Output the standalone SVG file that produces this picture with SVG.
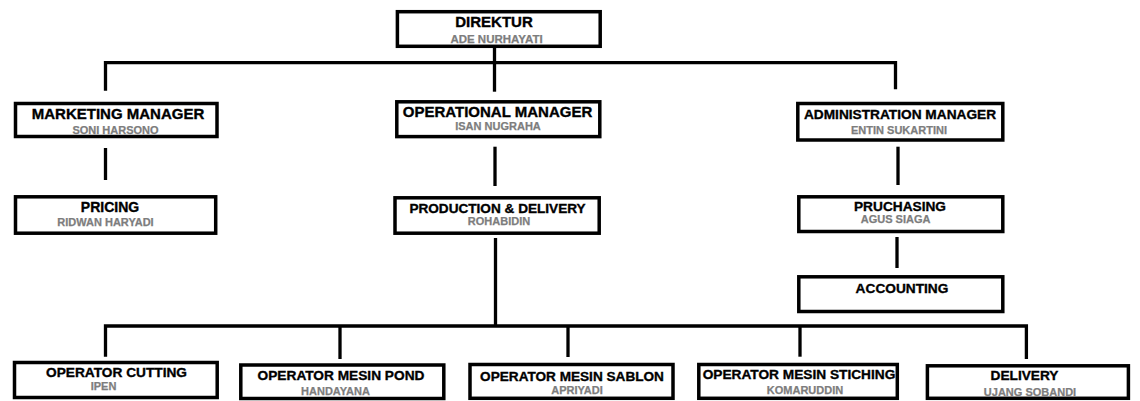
<svg xmlns="http://www.w3.org/2000/svg" width="1140" height="401" viewBox="0 0 1140 401">
<style>
.box{fill:#fff;stroke:#000;stroke-width:3.5}
.t{font-family:"Liberation Sans",Arial,sans-serif;font-weight:700;fill:#000;stroke:#000;stroke-width:0.35;text-anchor:middle;font-size:13.7px}
.tl{font-size:15px}
.n{font-family:"Liberation Sans",Arial,sans-serif;font-weight:700;fill:#7d7d7d;stroke:#7d7d7d;stroke-width:0.25;text-anchor:middle;font-size:11px}
.c{fill:none;stroke:#000;stroke-width:3.3;stroke-linejoin:miter}
</style>
<rect width="1140" height="401" fill="#fff"/>
<g id="connectors">
<path class="c" d="M494.5 48 V91.7"/>
<path class="c" d="M105.5 90.7 V62.7 H895.5 V89.3"/>
<path class="c" d="M105.5 148 V180"/>
<path class="c" d="M495 146.7 V186"/>
<path class="c" d="M898 146.7 V185"/>
<path class="c" d="M897 237 V268"/>
<path class="c" d="M495.5 238 V326"/>
<path class="c" d="M105.5 356.7 V326 H1026.4 V359"/>
<path class="c" d="M340 326 V359"/>
<path class="c" d="M568 326 V357"/>
<path class="c" d="M800 326 V356.7"/>
</g>
<g id="direktur">
<rect class="box" x="397.4" y="11.7" width="202.8" height="34.6"/>
<text class="t tl" x="494" y="27">DIREKTUR</text>
<text class="n" x="496.5" y="43" style="font-size:11.5px">ADE NURHAYATI</text>
</g>
<g id="marketing">
<rect class="box" x="15.5" y="103.5" width="201.5" height="33"/>
<text class="t tl" x="118" y="119">MARKETING MANAGER</text>
<text class="n" x="115.5" y="133.5">SONI HARSONO</text>
</g>
<g id="operational">
<rect class="box" x="396.8" y="101.8" width="203" height="34.8"/>
<text class="t tl" x="497.5" y="116.5">OPERATIONAL MANAGER</text>
<text class="n" x="498" y="129.5">ISAN NUGRAHA</text>
</g>
<g id="administration">
<rect class="box" x="797.8" y="103.5" width="205" height="36.5"/>
<text class="t" x="900" y="119">ADMINISTRATION MANAGER</text>
<text class="n" x="899" y="134.3">ENTIN SUKARTINI</text>
</g>
<g id="pricing">
<rect class="box" x="15.5" y="196.8" width="200.2" height="36.4"/>
<text class="t" x="110" y="211.5" style="font-size:14px">PRICING</text>
<text class="n" x="105.5" y="225.5">RIDWAN HARYADI</text>
</g>
<g id="production">
<rect class="box" x="395" y="197.8" width="204.2" height="35.4"/>
<text class="t" x="497.5" y="213.3" style="font-size:13.6px">PRODUCTION &amp; DELIVERY</text>
<text class="n" x="499" y="224.5">ROHABIDIN</text>
</g>
<g id="pruchasing">
<rect class="box" x="798.8" y="196.8" width="204" height="34.7"/>
<text class="t" x="900" y="211">PRUCHASING</text>
<text class="n" x="895.6" y="223.3">AGUS SIAGA</text>
</g>
<g id="accounting">
<rect class="box" x="798.8" y="276.8" width="204" height="34.7"/>
<text class="t" x="902" y="292.5">ACCOUNTING</text>
</g>
<g id="operator-cutting">
<rect class="box" x="14.5" y="362.5" width="202.7" height="35"/>
<text class="t" x="116.5" y="377.3">OPERATOR CUTTING</text>
<text class="n" x="103.5" y="390">IPEN</text>
</g>
<g id="operator-pond">
<rect class="box" x="240.8" y="365" width="203" height="33.5"/>
<text class="t" x="341" y="380">OPERATOR MESIN POND</text>
<text class="n" x="335.5" y="395">HANDAYANA</text>
</g>
<g id="operator-sablon">
<rect class="box" x="470" y="364.5" width="203" height="33.8"/>
<text class="t" x="572" y="381" style="font-size:13.6px">OPERATOR MESIN SABLON</text>
<text class="n" x="577" y="394">APRIYADI</text>
</g>
<g id="operator-stiching">
<rect class="box" x="698.8" y="364.5" width="198.5" height="33.8"/>
<text class="t" x="799" y="379.3">OPERATOR MESIN STICHING</text>
<text class="n" x="805" y="394">KOMARUDDIN</text>
</g>
<g id="delivery">
<rect class="box" x="927.4" y="365.8" width="201" height="32.5"/>
<text class="t" x="1024.5" y="380">DELIVERY</text>
<text class="n" x="1030" y="396">UJANG SOBANDI</text>
</g>
</svg>
